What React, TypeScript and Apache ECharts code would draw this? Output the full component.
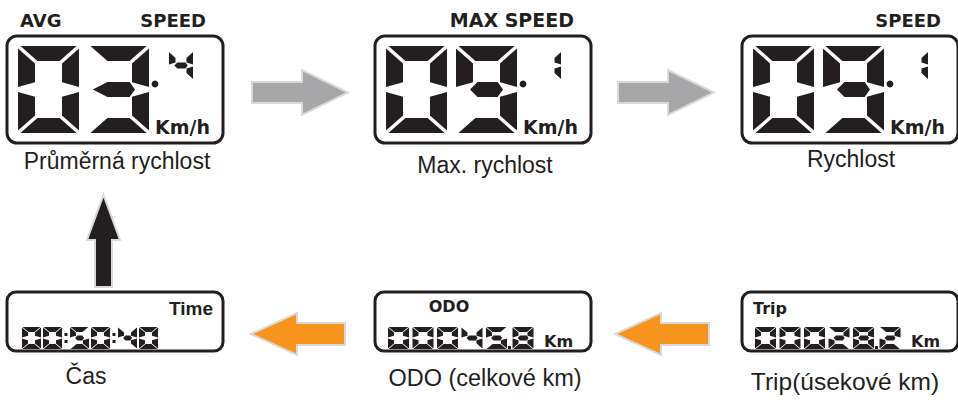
import React, { useEffect, useRef } from "react";
import * as echarts from "echarts";

// ---- data ----
const speedLabelsLeft = ["AVG", "", ""];
const speedLabelsRight = ["SPEED", "MAX SPEED", "SPEED"];
const speedValues = ["03.4", "09.1", "09.1"];
const speedCaptions = ["Průměrná rychlost", "Max. rychlost", "Rychlost"];
const speedUnit = "Km/h";
const lowerLabels = ["Time", "ODO", "Trip"];
const lowerValues = ["00:50:40", "00045.8", "00028.2"];
const lowerUnits = ["", "Km", "Km"];
const lowerCaptions = ["Čas", "ODO (celkové km)", "Trip(úsekové km)"];

const SEGMENTS: Record<string, string> = {
  "0": "abcdef",
  "1": "bc",
  "2": "abged",
  "3": "abgcd",
  "4": "fgbc",
  "5": "afgcd",
  "6": "afgedc",
  "7": "abc",
  "8": "abcdefg",
  "9": "abcdfg",
};

const INK = "#231f20";

function segPolys(ch: string, x: number, y: number, w: number, h: number, th: number, tv: number, g: number) {
  const m = y + h / 2;
  const nd = th * 0.33;
  const segs = SEGMENTS[ch] || "";
  const hasLeft = segs.indexOf("f") >= 0 || segs.indexOf("e") >= 0;
  const tipL = hasLeft ? Math.max(tv - 3 * (th / 15), tv * 0.5) : g * 2;
  const tipR = Math.max(tv - 3 * (th / 15), tv * 0.5);
  const P: Record<string, number[][]> = {
    a: [[x + g, y], [x + w - g, y], [x + w - tv - g, y + th], [x + tv + g, y + th]],
    b: [[x + w, y + g], [x + w, m - g], [x + w - tv, m - g - nd], [x + w - tv, y + th + g]],
    c: [[x + w, m + g], [x + w, y + h - g], [x + w - tv, y + h - th - g], [x + w - tv, m + g + nd]],
    d: [[x + tv + g, y + h - th], [x + w - tv - g, y + h - th], [x + w - g, y + h], [x + g, y + h]],
    e: [[x, m + g], [x + tv, m + g + nd], [x + tv, y + h - th - g], [x, y + h - g]],
    f: [[x, y + g], [x + tv, y + th + g], [x + tv, m - g - nd], [x, m - g]],
    g: [[x + tipL, m], [x + Math.max(tv + g, tipL + th / 2), m - th / 2], [x + w - tv - g, m - th / 2], [x + w - tipR, m], [x + w - tv - g, m + th / 2], [x + Math.max(tv + g, tipL + th / 2), m + th / 2]],
  };
  return segs.split("").map((s) => ({
    type: "polygon",
    shape: { points: P[s] },
    style: { fill: INK },
    silent: true,
  }));
}

function text(x: number, y: number, s: string, font: string, align = "left", vAlign = "middle") {
  return {
    type: "text",
    x,
    y,
    silent: true,
    style: {
      text: s,
      font,
      fill: INK,
      textAlign: align,
      align,
      textVerticalAlign: vAlign,
      verticalAlign: vAlign,
    },
  };
}

function arrow(points: number[][], fill: string) {
  return {
    type: "polygon",
    shape: { points },
    style: { fill, stroke: "#d9d9d9", lineWidth: 2, lineJoin: "miter" },
    silent: true,
  };
}

const BOX_X = [7, 375, 742];
const BOX_W = 216;
const TOP_CAPTION_X = [117, 485, 851];
const TOP_CAPTION_Y = [161, 165, 159];
const LOW_CAPTION_X = [86, 485, 845];
const LOW_CAPTION_Y = [376, 378, 381];
const LOW_CAPTION_SIZE = [23, 23.5, 24.5];

function buildElements() {
  const els: any[] = [];
  const boldFont = (s: number) => `bold ${s}px "DejaVu Sans"`;
  const capFont = (s: number) => `${s}px "Liberation Sans", Arial, sans-serif`;

  // top row
  speedValues.forEach((val, i) => {
    const bx = BOX_X[i];
    const by = 36;
    els.push({
      type: "rect",
      shape: { x: bx, y: by, width: BOX_W, height: 107, r: 10 },
      style: { fill: "#fff", stroke: INK, lineWidth: 3 },
      silent: true,
    });
    if (speedLabelsLeft[i]) els.push(text(bx + 13, 20, speedLabelsLeft[i], boldFont(18)));
    els.push(text(bx + 199, 20, speedLabelsRight[i], boldFont(i === 1 ? 19 : 18), "right"));
    const [intPart, decPart] = val.split(".");
    intPart.split("").forEach((ch, k) => {
      els.push(...segPolys(ch, bx + 11 + k * 70, 46, 61, 87, 15, 17, 2.4));
    });
    els.push({ type: "circle", shape: { cx: bx + 148, cy: 84, r: 3.4 }, style: { fill: INK }, silent: true });
    els.push(...segPolys(decPart, bx + 162, 51, 24, 29, 6, 6.5, 1));
    els.push(text(bx + 148, 127, speedUnit, boldFont(19)));
    els.push(text(TOP_CAPTION_X[i], TOP_CAPTION_Y[i], speedCaptions[i], capFont(23), "center"));
  });

  // bottom row
  lowerValues.forEach((val, i) => {
    const bx = BOX_X[i];
    const by = 292;
    els.push({
      type: "rect",
      shape: { x: bx, y: by, width: BOX_W, height: 59, r: 9 },
      style: { fill: "#fff", stroke: INK, lineWidth: 3 },
      silent: true,
    });
    if (i === 0) els.push(text(bx + 206, 308, lowerLabels[i], `bold 19px "Liberation Sans", Arial`, "right"));
    if (i === 1) els.push(text(bx + 74, 306, lowerLabels[i], boldFont(16), "center"));
    if (i === 2) els.push(text(bx + 11, 308, lowerLabels[i], boldFont(16)));
    const isTime = val.indexOf(":") >= 0;
    const dw = isTime ? 19 : 21;
    const pitch = isTime ? 21 : 24.5;
    const dy = 327;
    const dh = 22;
    let cx = bx + (isTime ? 15 : 13);
    val.split("").forEach((ch) => {
      if (ch === ":") {
        els.push({ type: "rect", shape: { x: cx + 0.5, y: dy + 6, width: 3, height: 3 }, style: { fill: INK }, silent: true });
        els.push({ type: "rect", shape: { x: cx + 0.5, y: dy + 13, width: 3, height: 3 }, style: { fill: INK }, silent: true });
        cx += 6;
      } else if (ch === ".") {
        els.push({ type: "rect", shape: { x: cx - 2.5, y: dy + dh - 3, width: 3, height: 3 }, style: { fill: INK }, silent: true });
        cx += 2;
      } else {
        els.push(...segPolys(ch, cx, dy, dw, dh, 5, 6, 0.6));
        cx += pitch;
      }
    });
    if (lowerUnits[i]) els.push(text(bx + 169, 341, lowerUnits[i], boldFont(16)));
    els.push(text(LOW_CAPTION_X[i], LOW_CAPTION_Y[i], lowerCaptions[i], capFont(LOW_CAPTION_SIZE[i]), "center"));
  });

  // gray arrows (top row, pointing right)
  [0, 366].forEach((o) => {
    els.push(arrow([[252 + o, 82], [302 + o, 82], [302 + o, 70], [348 + o, 92.5], [302 + o, 115], [302 + o, 103], [252 + o, 103]], "#a7a7a9"));
  });
  // orange arrows (bottom row, pointing left)
  [0, 364].forEach((o) => {
    els.push(arrow([[345 + o, 323], [297 + o, 323], [297 + o, 313], [251 + o, 334], [297 + o, 355], [297 + o, 345], [345 + o, 345]], "#f7941e"));
  });
  // black up arrow
  els.push(arrow([[95, 287], [95, 240], [87, 240], [103.5, 195], [120, 240], [112, 240], [112, 287]], INK));

  return els;
}

export default function App() {
  const ref = useRef<HTMLDivElement>(null);
  useEffect(() => {
    if (!ref.current) return;
    const chart = echarts.init(ref.current, undefined, { renderer: "svg" });
    chart.setOption({
      animation: false,
      backgroundColor: "#ffffff",
      graphic: { elements: buildElements() },
    });
    return () => chart.dispose();
  }, []);
  return (
    <div
      ref={ref}
      style={{ position: "fixed", left: 0, top: 0, width: 958, height: 402, background: "#fff" }}
    />
  );
}
